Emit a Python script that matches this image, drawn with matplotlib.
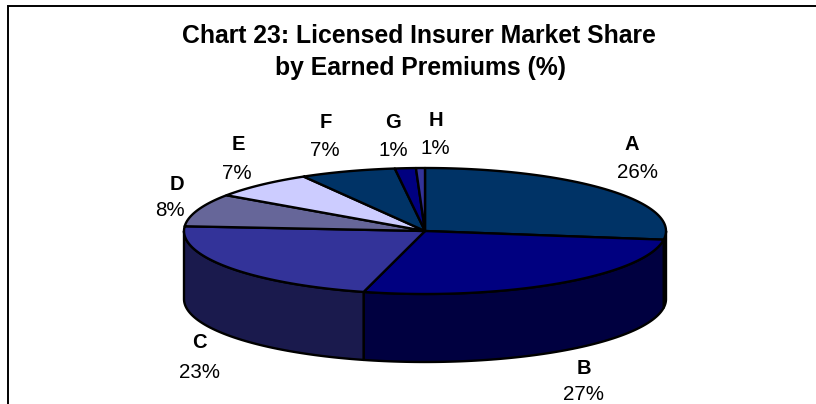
import matplotlib
matplotlib.use('Agg')
import matplotlib.pyplot as plt
from matplotlib.patches import Polygon
import numpy as np

plt.rcParams['font.family'] = ['Liberation Sans', 'DejaVu Sans']

# slice names, printed percentages and sizes measured from the slice edges
names = ['A', 'B', 'C', 'D', 'E', 'F', 'G', 'H']
printed = ['26%', '27%', '23%', '8%', '7%', '7%', '1%', '1%']
shares = [27.2, 26.9, 22.1, 8.4, 7.0, 6.4, 1.4, 0.6]

top_colors = ['#003366', '#000080', '#333399', '#666699', '#CCCCFF', '#003366', '#000080', '#333399']
side_colors = ['#001A33', '#000040', '#1A1A4D', '#333350', '#666680', '#001A33', '#000040', '#1A1A4D']

# label positions in pixels: name centre, then percentage centre x and baseline y
name_pos = [(632, 145), (584, 369), (199, 343), (177, 184), (238, 145), (326, 122), (393, 122), (436, 120)]
pct_pos = [(637, 178), (584, 399.5), (199, 378), (170, 216), (237, 179), (325, 156), (393, 156), (435, 154)]

cx, cy = 425, 231
rx, ry = 241, 63
depth = 68


def ring(t):
    t = np.radians(t)
    return cx + rx * np.cos(t), cy - ry * np.sin(t)


fig = plt.figure(figsize=(8.16, 4.04), dpi=100)
ax = fig.add_axes([0, 0, 1, 1])
ax.set_xlim(0, 816)
ax.set_ylim(404, 0)
ax.axis('off')

# chart frame, cut off at the right and bottom of the picture
ax.plot([8, 8, 816], [404, 5.5, 5.5], color='black', lw=1.4, solid_joinstyle='miter')

# angles run clockwise from twelve o'clock
edges = 90 - np.cumsum([0] + shares) * 3.6

# side walls first, only the front half of the ellipse shows
for i in range(len(shares)):
    lo = max(edges[i + 1], -180)
    hi = min(edges[i], 0)
    if lo >= hi:
        continue
    t = np.linspace(hi, lo, 80)
    x, y = ring(t)
    pts = np.column_stack([np.r_[x, x[::-1]], np.r_[y, y[::-1] + depth]])
    ax.add_patch(Polygon(pts, closed=True, fc=side_colors[i], ec='black', lw=1.7, joinstyle='round', zorder=2))

# top faces
for i in range(len(shares)):
    t = np.linspace(edges[i], edges[i + 1], 80)
    x, y = ring(t)
    pts = np.column_stack([np.r_[cx, x], np.r_[cy, y]])
    ax.add_patch(Polygon(pts, closed=True, fc=top_colors[i], ec='black', lw=1.7, joinstyle='round', zorder=3))

ax.text(418.5, 43, 'Chart 23: Licensed Insurer Market Share', ha='center', va='baseline',
        fontsize=17.8, fontweight='bold')
ax.text(420.5, 75, 'by Earned Premiums (%)', ha='center', va='baseline',
        fontsize=17.8, fontweight='bold')

for i in range(len(names)):
    ax.text(name_pos[i][0], name_pos[i][1], names[i], ha='center', va='center',
            fontsize=14.5, fontweight='bold')
    ax.text(pct_pos[i][0], pct_pos[i][1], printed[i], ha='center', va='baseline', fontsize=14.8)

fig.savefig('out.png', dpi=100)
